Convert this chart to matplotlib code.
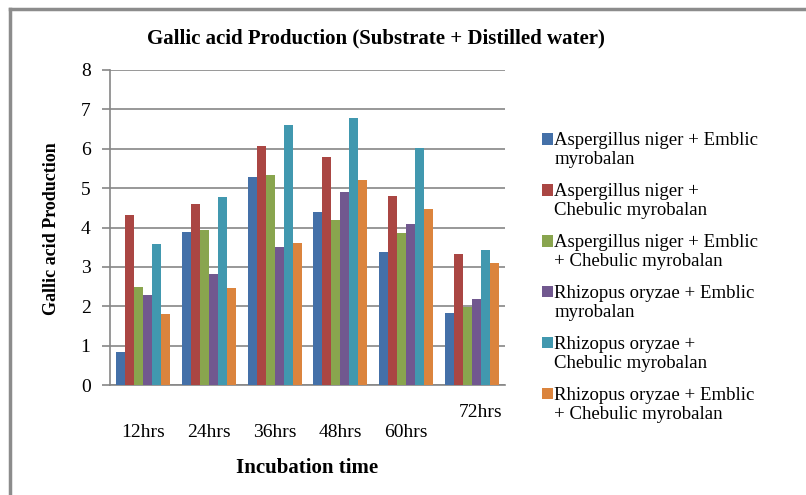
import matplotlib.pyplot as plt
import numpy as np
from matplotlib.transforms import ScaledTranslation
from matplotlib.lines import Line2D

plt.rcParams["font.family"] = ["Liberation Serif", "DejaVu Serif"]

# incubation times and gallic acid production per culture / substrate
times = ["12hrs", "24hrs", "36hrs", "48hrs", "60hrs", "72hrs"]
series_names = [
    "Aspergillus niger + Emblic\nmyrobalan",
    "Aspergillus niger +\nChebulic myrobalan",
    "Aspergillus niger + Emblic\n+ Chebulic myrobalan",
    "Rhizopus oryzae + Emblic\nmyrobalan",
    "Rhizopus oryzae +\nChebulic myrobalan",
    "Rhizopus oryzae + Emblic\n+ Chebulic myrobalan",
]
an_emblic = [0.84, 3.89, 5.28, 4.39, 3.38, 1.83]
an_chebulic = [4.32, 4.60, 6.07, 5.79, 4.80, 3.33]
an_both = [2.49, 3.94, 5.33, 4.19, 3.86, 1.98]
ro_emblic = [2.29, 2.82, 3.51, 4.90, 4.09, 2.18]
ro_chebulic = [3.58, 4.78, 6.60, 6.78, 6.02, 3.43]
ro_both = [1.80, 2.46, 3.61, 5.21, 4.47, 3.10]
series = [an_emblic, an_chebulic, an_both, ro_emblic, ro_chebulic, ro_both]
colors = ["#4470A8", "#AA4643", "#89A54E", "#71588F", "#4198AF", "#DB843D"]

fig = plt.figure(figsize=(8.06, 4.95), dpi=100)
ax = fig.add_axes([0.1365, 0.2222, 0.4901, 0.6364])

x = np.arange(len(times))
group = 0.82
w = group / len(series)
for i, (vals, c, name) in enumerate(zip(series, colors, series_names)):
    ax.bar(x - group / 2 + w * (i + 0.5), vals, width=w, color=c, label=name,
           zorder=3)

ax.set_xlim(-0.5, len(times) - 0.5)
ax.set_ylim(0, 8)
ax.set_yticks(range(0, 9))
ax.yaxis.grid(True, color="#868686", linewidth=1.2, zorder=0)
for s in ["top", "right"]:
    ax.spines[s].set_visible(False)
for s in ["left", "bottom"]:
    ax.spines[s].set_color("#868686")
    ax.spines[s].set_linewidth(1.2)
ax.tick_params(axis="y", length=6, color="#868686", width=1.2, pad=8,
               labelsize=14)
ax.set_xticks(x, times)
ax.tick_params(axis="x", length=0, pad=28, labelsize=14)
# the last category label sits higher and slightly to the right
last = ax.get_xticklabels()[-1]
last.set_transform(last.get_transform() +
                   ScaledTranslation(0.08, 0.2, fig.dpi_scale_trans))

fig.text(0.0645, 0.539, "Gallic acid Production", fontsize=13,
         fontweight="bold", rotation=90, ha="center", va="center")
fig.text(0.381, 0.055, "Incubation time", fontsize=15, fontweight="bold",
         ha="center", va="center")
fig.text(0.467, 0.923, "Gallic acid Production (Substrate + Distilled water)",
         fontsize=15, fontweight="bold", ha="center", va="center")

leg = fig.legend(loc="upper left", bbox_to_anchor=(0.6635, 0.748),
                 frameon=False, fontsize=13.5, handlelength=0.55,
                 handleheight=0.55, handletextpad=0.1, labelspacing=0.8,
                 borderaxespad=0)
for t in leg.get_texts():
    t.set_linespacing(1.15)
# legend squares line up with the first line of each label
for h in leg.legend_handles:
    h.set_y(h.get_y() + 8)

# outer chart frame (top and left edges)
fig.add_artist(Line2D([0.0125, 1.0], [0.981, 0.981], color="#8c8c8c",
                      linewidth=2.5, transform=fig.transFigure))
fig.add_artist(Line2D([0.0125, 0.0125], [0.0, 0.981], color="#8c8c8c",
                      linewidth=2.5, transform=fig.transFigure))

fig.savefig("out.png", dpi=100)
